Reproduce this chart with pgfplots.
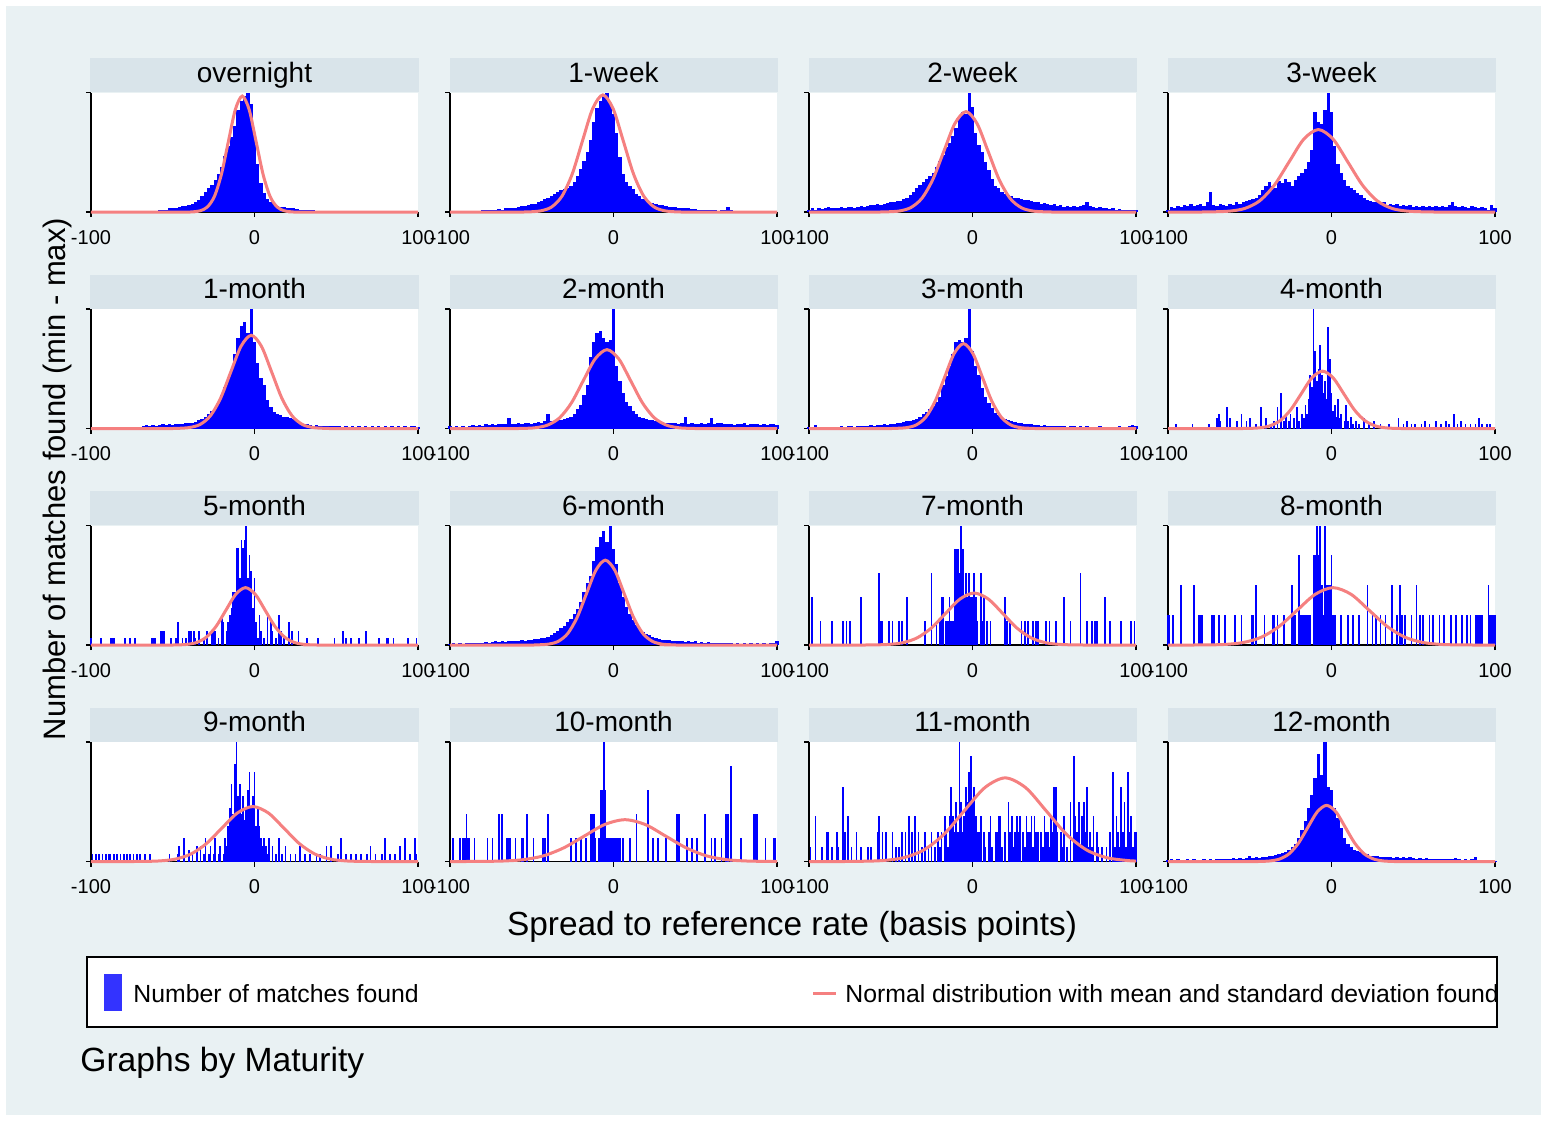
\documentclass[border=0pt]{standalone}
\usepackage{pgfplots}
\pgfplotsset{compat=1.18}
\usepackage{pgfplotstable}
\usepackage{fontspec}
\setmainfont{Liberation Sans}
\definecolor{bgc}{RGB}{233,241,243}
\definecolor{stripc}{RGB}{217,228,234}
\definecolor{curvec}{RGB}{245,128,128}
\definecolor{barc}{RGB}{0,0,255}
\definecolor{legc}{RGB}{51,51,255}

\pgfplotsset{panel/.style={
  anchor=north west, scale only axis, width=163.5pt, height=59.75pt,
  xmin=-100, xmax=100, ymin=0, ymax=1, clip=false,
  axis x line*=bottom, axis y line*=left,
  xtick={-100,0,100}, xticklabels={-100,0,100},
  ytick={0,1}, yticklabels={},
  tick align=outside, major tick length=2.5pt,
  tick style={black, line width=0.6pt},
  axis line style={black, line width=0.6pt},
  xticklabel style={font=\fontsize{10}{12}\selectfont, yshift=-3pt},
  axis background/.style={fill=white},
  title style={at={(0.5,1)}, anchor=south, yshift=-6pt, fill=stripc, minimum width=164pt, minimum height=17pt, inner sep=0pt, text height=10pt, text depth=2.8pt, font=\fontsize{14}{16}\selectfont},
}}
\pgfplotsset{hist/.style={ycomb, barc, line width=1.7pt}, shist/.style={ycomb, barc, line width=0.85pt}, ncurve/.style={curvec, line width=1.5pt, smooth}}

\pgfplotstableread{
x on w1 w2 w3 m1 m2 m3 m6 m12
-100 0 0 0.02 0.02 0 0.02 0.01 0.01 0.01
-98 0 0 0.03 0.04 0 0.015 0.015 0.02 0.02
-96 0 0.005 0.02 0.03 0 0.02 0.03 0.01 0.01
-94 0 0.005 0.03 0.05 0 0.01 0.01 0.015 0.02
-92 0 0.005 0.025 0.04 0 0.02 0.005 0.01 0.015
-90 0 0.01 0.03 0.06 0 0.015 0.01 0.02 0.01
-88 0 0.005 0.04 0.05 0 0.02 0.015 0.015 0.02
-86 0 0.01 0.03 0.07 0 0.03 0.01 0.02 0.015
-84 0 0.01 0.035 0.05 0.01 0.025 0.015 0.015 0.02
-82 0 0.01 0.03 0.06 0 0.03 0.01 0.02 0.015
-80 0 0.015 0.04 0.07 0 0.025 0.02 0.02 0.01
-78 0 0.02 0.03 0.05 0 0.04 0.015 0.025 0.02
-76 0 0.015 0.045 0.08 0 0.03 0.02 0.02 0.015
-74 0 0.02 0.04 0.17 0 0.035 0.02 0.025 0.02
-72 0 0.02 0.035 0.06 0 0.03 0.015 0.03 0.015
-70 0 0.025 0.045 0.05 0.005 0.04 0.02 0.025 0.02
-68 0.005 0.02 0.05 0.07 0.02 0.035 0.025 0.03 0.025
-66 0.01 0.03 0.045 0.06 0.03 0.04 0.02 0.025 0.02
-64 0.005 0.03 0.05 0.05 0.025 0.09 0.025 0.03 0.025
-62 0.01 0.03 0.06 0.07 0.03 0.04 0.03 0.035 0.02
-60 0.01 0.035 0.055 0.06 0.025 0.035 0.025 0.03 0.03
-58 0.015 0.04 0.065 0.08 0.03 0.045 0.03 0.035 0.025
-56 0.02 0.05 0.06 0.07 0.035 0.04 0.03 0.04 0.03
-54 0.02 0.05 0.07 0.08 0.03 0.05 0.035 0.035 0.025
-52 0.03 0.06 0.075 0.09 0.035 0.045 0.03 0.04 0.03
-50 0.03 0.065 0.08 0.1 0.03 0.04 0.035 0.045 0.05
-48 0.035 0.07 0.085 0.11 0.04 0.05 0.04 0.05 0.03
-46 0.04 0.08 0.09 0.12 0.035 0.055 0.045 0.05 0.035
-44 0.05 0.09 0.095 0.14 0.04 0.05 0.05 0.055 0.03
-42 0.05 0.11 0.11 0.18 0.045 0.06 0.055 0.06 0.04
-40 0.06 0.12 0.12 0.22 0.05 0.12 0.06 0.07 0.035
-38 0.07 0.13 0.14 0.25 0.05 0.06 0.065 0.08 0.045
-36 0.08 0.15 0.17 0.22 0.055 0.065 0.07 0.1 0.05
-34 0.1 0.17 0.2 0.2 0.07 0.07 0.08 0.12 0.055
-32 0.13 0.18 0.23 0.26 0.08 0.075 0.1 0.14 0.06
-30 0.17 0.19 0.25 0.24 0.1 0.08 0.12 0.16 0.07
-28 0.2 0.2 0.28 0.28 0.12 0.09 0.14 0.19 0.08
-26 0.23 0.22 0.3 0.25 0.15 0.1 0.16 0.22 0.1
-24 0.27 0.25 0.33 0.22 0.18 0.12 0.19 0.26 0.12
-22 0.32 0.3 0.38 0.27 0.22 0.16 0.22 0.3 0.15
-20 0.38 0.36 0.43 0.3 0.28 0.2 0.26 0.36 0.2
-18 0.47 0.43 0.48 0.33 0.35 0.28 0.36 0.44 0.26
-16 0.55 0.5 0.54 0.36 0.43 0.36 0.44 0.52 0.34
-14 0.63 0.6 0.58 0.42 0.5 0.6 0.52 0.58 0.45
-12 0.72 0.75 0.64 0.52 0.62 0.72 0.62 0.7 0.56
-10 0.85 0.87 0.7 0.84 0.76 0.8 0.72 0.82 0.7
-8 0.93 0.93 0.8 0.75 0.86 0.82 0.74 0.9 0.9
-6 0.97 0.98 0.84 0.74 0.89 0.76 0.72 0.95 0.72
-4 1 1 0.82 0.85 0.8 0.72 0.76 0.86 1
-2 0.9 0.9 1 1 1 0.74 1 1 0.62
0 0.65 0.82 0.88 0.84 0.72 1 0.65 0.8 0.6
2 0.4 0.66 0.66 0.55 0.55 0.52 0.52 0.68 0.45
4 0.24 0.46 0.56 0.4 0.42 0.4 0.45 0.52 0.36
6 0.16 0.32 0.5 0.33 0.36 0.3 0.34 0.4 0.28
8 0.11 0.25 0.42 0.27 0.24 0.22 0.26 0.32 0.2
10 0.08 0.22 0.35 0.22 0.18 0.19 0.21 0.26 0.15
12 0.065 0.19 0.28 0.2 0.14 0.15 0.17 0.21 0.12
14 0.05 0.15 0.22 0.18 0.12 0.12 0.13 0.17 0.1
16 0.045 0.13 0.2 0.16 0.11 0.1 0.11 0.14 0.09
18 0.04 0.11 0.17 0.14 0.1 0.09 0.09 0.11 0.08
20 0.035 0.1 0.15 0.12 0.1 0.08 0.08 0.09 0.07
22 0.03 0.085 0.14 0.1 0.09 0.075 0.07 0.08 0.06
24 0.03 0.075 0.13 0.09 0.08 0.07 0.06 0.07 0.05
26 0.025 0.07 0.12 0.08 0.07 0.065 0.055 0.06 0.05
28 0.02 0.06 0.12 0.08 0.05 0.06 0.05 0.05 0.045
30 0.02 0.055 0.11 0.07 0.04 0.055 0.045 0.045 0.04
32 0.02 0.05 0.1 0.08 0.035 0.05 0.04 0.04 0.04
34 0.015 0.045 0.1 0.06 0.03 0.05 0.035 0.04 0.035
36 0.015 0.04 0.09 0.07 0.025 0.045 0.035 0.035 0.04
38 0.01 0.04 0.08 0.06 0.03 0.05 0.03 0.03 0.03
40 0.01 0.035 0.085 0.07 0.025 0.04 0.03 0.035 0.035
42 0.01 0.035 0.07 0.05 0.02 0.045 0.025 0.03 0.03
44 0.005 0.03 0.075 0.06 0.025 0.1 0.03 0.025 0.035
46 0 0.03 0.065 0.05 0.02 0.04 0.02 0.03 0.03
48 0 0.025 0.06 0.06 0.025 0.045 0.025 0.025 0.04
50 0 0.025 0.065 0.04 0.02 0.04 0.02 0.03 0.03
52 0 0.02 0.05 0.05 0.02 0.035 0.025 0.02 0.025
54 0 0.02 0.06 0.04 0.015 0.045 0.02 0.025 0.03
56 0 0.02 0.045 0.05 0.02 0.04 0.02 0.02 0.025
58 0 0.015 0.05 0.04 0.015 0.05 0.015 0.025 0.03
60 0 0.015 0.04 0.05 0.02 0.09 0.02 0.02 0.025
62 0 0.015 0.05 0.04 0.015 0.04 0.02 0.015 0.02
64 0 0.01 0.04 0.05 0.02 0.045 0.015 0.02 0.025
66 0 0.015 0.05 0.04 0.015 0.05 0.02 0.015 0.02
68 0 0.02 0.06 0.05 0.02 0.04 0.015 0.02 0.025
70 0 0.04 0.085 0.04 0.015 0.035 0.02 0.015 0.02
72 0 0.015 0.05 0.06 0.02 0.04 0.015 0.02 0.025
74 0 0.01 0.04 0.08 0.015 0.03 0.01 0.01 0.02
76 0 0.01 0.035 0.05 0.02 0.04 0.015 0.015 0.03
78 0 0.005 0.04 0.04 0.015 0.035 0.02 0.01 0.02
80 0 0.01 0.03 0.05 0.02 0.05 0.01 0.015 0.015
82 0 0.005 0.035 0.04 0.015 0.03 0.015 0.01 0.02
84 0 0.01 0.025 0.03 0.02 0.04 0.01 0.015 0.015
86 0 0.005 0.03 0.05 0.015 0.035 0.015 0.01 0.02
88 0 0.005 0.02 0.04 0.02 0.04 0.01 0.015 0.04
90 0 0.005 0.025 0.03 0.015 0.03 0.02 0.01 0.015
92 0 0 0.02 0.04 0.02 0.035 0.015 0.015 0.01
94 0 0.005 0.015 0.03 0.015 0.03 0.01 0.01 0.015
96 0 0 0.02 0.02 0.02 0.035 0.02 0.015 0.01
98 0 0 0.015 0.06 0.02 0.04 0.03 0.02 0.01
100 0 0 0.02 0.03 0.015 0.03 0.02 0.03 0.005
}\dense

\begin{document}
\begin{tikzpicture}
\useasboundingbox (0,0) rectangle (773.5pt,-560.5pt);
\fill[white] (0,0) rectangle (773.5pt,-560.5pt);
\fill[bgc] (3pt,-3pt) rectangle (770.5pt,-557.5pt);

% ---------- Row 1 ----------
\begin{axis}[panel, at={(45.5pt,-46.25pt)}, title={overnight}]
\addplot[hist] table[x=x,y=on]{\dense};
\addplot[ncurve] coordinates {(-100,0)(-41.5,0)(-37.25,0.002)(-33,0.011)(-28.75,0.043)(-24.5,0.131)(-20.25,0.315)(-16,0.588)(-11.75,0.856)(-7.5,0.97)(-3.25,0.856)(1,0.588)(5.25,0.315)(9.5,0.131)(13.75,0.043)(18,0.011)(22.25,0.002)(26.5,0)(100,0)};
\end{axis}
\begin{axis}[panel, at={(225pt,-46.25pt)}, title={1-week}]
\addplot[hist] table[x=x,y=w1]{\dense};
\addplot[ncurve] coordinates {(-100,0)(-56.5,0)(-50.25,0.002)(-44,0.011)(-37.75,0.043)(-31.5,0.133)(-25.25,0.318)(-19,0.594)(-12.75,0.865)(-6.5,0.98)(-0.25,0.865)(6,0.594)(12.25,0.318)(18.5,0.133)(24.75,0.043)(31,0.011)(37.25,0.002)(43.5,0)(100,0)};
\end{axis}
\begin{axis}[panel, at={(404.5pt,-46.25pt)}, title={2-week}]
\addplot[hist] table[x=x,y=w2]{\dense};
\addplot[ncurve] coordinates {(-100,0)(-58,0)(-51.25,0.002)(-44.5,0.009)(-37.75,0.037)(-31,0.114)(-24.25,0.273)(-17.5,0.509)(-10.75,0.741)(-4,0.84)(2.75,0.741)(9.5,0.509)(16.25,0.273)(23,0.114)(29.75,0.037)(36.5,0.009)(43.25,0.002)(50,0)(100,0)};
\end{axis}
\begin{axis}[panel, at={(584pt,-46.25pt)}, title={3-week}]
\addplot[hist] table[x=x,y=w3]{\dense};
\addplot[ncurve] coordinates {(-100,0)(-80,0)(-71,0.002)(-62,0.008)(-53,0.03)(-44,0.093)(-35,0.224)(-26,0.418)(-17,0.609)(-8,0.69)(1,0.609)(10,0.418)(19,0.224)(28,0.093)(37,0.03)(46,0.008)(55,0.002)(64,0)(100,0)};
\end{axis}

% ---------- Row 2 ----------
\begin{axis}[panel, at={(45.5pt,-154.5pt)}, title={1-month}]
\addplot[hist] table[x=x,y=m1]{\dense};
\addplot[ncurve] coordinates {(-100,0)(-52,0)(-45.75,0.002)(-39.5,0.009)(-33.25,0.034)(-27,0.106)(-20.75,0.253)(-14.5,0.473)(-8.25,0.688)(-2,0.78)(4.25,0.688)(10.5,0.473)(16.75,0.253)(23,0.106)(29.25,0.034)(35.5,0.009)(41.75,0.002)(48,0)(100,0)};
\end{axis}
\begin{axis}[panel, at={(225pt,-154.5pt)}, title={2-month}]
\addplot[hist] table[x=x,y=m2]{\dense};
\addplot[ncurve] coordinates {(-100,0)(-62,0)(-54.75,0.001)(-47.5,0.007)(-40.25,0.029)(-33,0.089)(-25.75,0.214)(-18.5,0.4)(-11.25,0.582)(-4,0.66)(3.25,0.582)(10.5,0.4)(17.75,0.214)(25,0.089)(32.25,0.029)(39.5,0.007)(46.75,0.001)(54,0)(100,0)};
\end{axis}
\begin{axis}[panel, at={(404.5pt,-154.5pt)}, title={3-month}]
\addplot[hist] table[x=x,y=m3]{\dense};
\addplot[ncurve] coordinates {(-100,0)(-51.5,0)(-45.75,0.002)(-40,0.008)(-34.25,0.031)(-28.5,0.096)(-22.75,0.231)(-17,0.431)(-11.25,0.627)(-5.5,0.71)(0.25,0.627)(6,0.431)(11.75,0.231)(17.5,0.096)(23.25,0.031)(29,0.008)(34.75,0.002)(40.5,0)(100,0)};
\end{axis}
\begin{axis}[panel, at={(584pt,-154.5pt)}, title={4-month}]
\addplot[shist] coordinates {(-95,0.035)(-85,0.035)(-75,0.035)(-70,0.09)(-69,0.12)(-68,0.06)(-64,0.18)(-62,0.09)(-58,0.06)(-55,0.12)(-52,0.06)(-50,0.09)(-46,0.035)(-43,0.18)(-40,0.09)(-37,0.035)(-35,0.06)(-33,0.18)(-31,0.3)(-29,0.06)(-28,0.12)(-26,0.06)(-25,0.12)(-23,0.09)(-21,0.18)(-20,0.06)(-18,0.12)(-17,0.09)(-16,0.2)(-15,0.12)(-14,0.25)(-13,0.45)(-12,0.35)(-11,1)(-10,0.65)(-9,0.4)(-8,0.5)(-7,0.7)(-6,0.45)(-5,0.3)(-4,0.4)(-3,0.25)(-2,0.85)(-1,0.58)(0,0.3)(1,0.15)(2,0.2)(3,0.1)(4,0.25)(5,0.09)(6,0.12)(8,0.06)(9,0.2)(10,0.06)(12,0.1)(13,0.035)(15,0.06)(17,0.035)(20,0.09)(23,0.035)(26,0.06)(30,0.035)(35,0.035)(41,0.09)(44,0.035)(46,0.06)(49,0.035)(51,0.035)(55,0.035)(57,0.06)(60,0.035)(64,0.06)(67,0.035)(70,0.06)(72,0.035)(75,0.12)(77,0.035)(79,0.06)(82,0.035)(85,0.035)(88,0.035)(90,0.09)(92,0.035)(95,0.035)(97,0.035)};
\addplot[ncurve] coordinates {(-100,0)(-57.5,0)(-51,0.001)(-44.5,0.005)(-38,0.021)(-31.5,0.065)(-25,0.156)(-18.5,0.291)(-12,0.424)(-5.5,0.48)(1,0.424)(7.5,0.291)(14,0.156)(20.5,0.065)(27,0.021)(33.5,0.005)(40,0.001)(46.5,0)(100,0)};
\end{axis}

% ---------- Row 3 ----------
\begin{axis}[panel, at={(45.5pt,-262.75pt)}, title={5-month}]
\addplot[shist] coordinates {(-100,0.06)(-94,0.06)(-88,0.06)(-87,0.06)(-86,0.06)(-79,0.06)(-76,0.06)(-73,0.06)(-63,0.06)(-62,0.06)(-61,0.06)(-57,0.12)(-56,0.12)(-55,0.12)(-51,0.06)(-48,0.06)(-47,0.19)(-44,0.06)(-42,0.06)(-40,0.12)(-39,0.12)(-37,0.12)(-36,0.06)(-34,0.12)(-31,0.06)(-29,0.12)(-26,0.12)(-25,0.12)(-24,0.12)(-22,0.06)(-20,0.25)(-19,0.19)(-17,0.12)(-16,0.19)(-15,0.25)(-14,0.31)(-13,0.44)(-12,0.44)(-11,0.81)(-10,0.81)(-9,0.56)(-8,0.88)(-7,0.81)(-6,0.88)(-5,1)(-4,0.56)(-3,0.75)(-2,0.62)(-1,0.31)(0,0.56)(1,0.19)(2,0.06)(3,0.25)(4,0.12)(6,0.06)(8,0.25)(10,0.19)(11,0.12)(13,0.06)(15,0.25)(16,0.12)(18,0.06)(21,0.19)(23,0.12)(27,0.12)(32,0.06)(39,0.06)(49,0.06)(54,0.12)(56,0.06)(59,0.06)(64,0.06)(68,0.12)(76,0.06)(81,0.06)(82,0.06)(85,0.06)(94,0.06)(99,0.06)};
\addplot[ncurve] coordinates {(-100,0)(-53.5,0)(-47.5,0.001)(-41.5,0.005)(-35.5,0.021)(-29.5,0.065)(-23.5,0.156)(-17.5,0.291)(-11.5,0.424)(-5.5,0.48)(0.5,0.424)(6.5,0.291)(12.5,0.156)(18.5,0.065)(24.5,0.021)(30.5,0.005)(36.5,0.001)(42.5,0)(100,0)};
\end{axis}
\begin{axis}[panel, at={(225pt,-262.75pt)}, title={6-month}]
\addplot[hist] table[x=x,y=m6]{\dense};
\addplot[ncurve] coordinates {(-100,0)(-51,0)(-45.25,0.002)(-39.5,0.008)(-33.75,0.031)(-28,0.096)(-22.25,0.231)(-16.5,0.431)(-10.75,0.627)(-5,0.71)(0.75,0.627)(6.5,0.431)(12.25,0.231)(18,0.096)(23.75,0.031)(29.5,0.008)(35.25,0.002)(41,0)(100,0)};
\end{axis}
\begin{axis}[panel, at={(404.5pt,-262.75pt)}, title={7-month}]
\addplot[shist] coordinates {(-98,0.4)(-93,0.2)(-86,0.2)(-79,0.2)(-77,0.2)(-75,0.2)(-68,0.4)(-57,0.6)(-56,0.2)(-55,0.2)(-51,0.2)(-49,0.2)(-45,0.2)(-43,0.2)(-40,0.4)(-29,0.2)(-25,0.6)(-22,0.2)(-20,0.2)(-19,0.4)(-18,0.4)(-16,0.2)(-15,0.2)(-14,0.4)(-13,0.2)(-12,0.2)(-11,0.8)(-10,0.8)(-9,0.8)(-8,0.6)(-7,1)(-6,0.8)(-5,0.4)(-4,0.6)(-3,0.4)(-2,0.6)(-1,0.4)(0,0.4)(1,0.6)(2,0.4)(3,0.2)(5,0.6)(6,0.2)(7,0.4)(9,0.2)(11,0.2)(20,0.4)(21,0.2)(23,0.2)(30,0.2)(32,0.2)(34,0.2)(37,0.2)(39,0.2)(40,0.2)(45,0.2)(47,0.2)(51,0.2)(56,0.4)(60,0.2)(66,0.6)(70,0.2)(73,0.2)(75,0.2)(76,0.2)(81,0.4)(84,0.2)(91,0.2)(97,0.2)(99,0.2)};
\addplot[ncurve] coordinates {(-100,0)(-69,0)(-60.25,0.001)(-51.5,0.005)(-42.75,0.019)(-34,0.059)(-25.25,0.141)(-16.5,0.264)(-7.75,0.384)(1,0.435)(9.75,0.384)(18.5,0.264)(27.25,0.141)(36,0.059)(44.75,0.019)(53.5,0.005)(62.25,0.001)(71,0)(100,0)};
\end{axis}
\begin{axis}[panel, at={(584pt,-262.75pt)}, title={8-month}]
\addplot[shist] coordinates {(-100,0.25)(-99,0.25)(-97,0.25)(-92,0.5)(-84,0.5)(-81,0.25)(-80,0.25)(-79,0.25)(-73,0.25)(-72,0.25)(-69,0.25)(-65,0.25)(-59,0.25)(-55,0.25)(-49,0.25)(-48,0.25)(-46,0.5)(-41,0.25)(-36,0.25)(-35,0.25)(-33,0.25)(-29,0.25)(-24,0.5)(-23,0.25)(-22,0.25)(-20,0.75)(-19,0.25)(-18,0.25)(-17,0.25)(-16,0.25)(-15,0.25)(-14,0.25)(-13,0.25)(-11,0.75)(-10,0.75)(-9,1)(-8,0.75)(-7,1)(-6,0.5)(-5,0.25)(-4,1)(-3,0.5)(-2,0.5)(-1,0.5)(0,0.75)(1,0.25)(2,0.25)(6,0.25)(10,0.25)(13,0.25)(17,0.25)(22,0.5)(25,0.25)(27,0.25)(30,0.25)(33,0.25)(37,0.5)(40,0.25)(42,0.5)(43,0.25)(45,0.25)(49,0.25)(52,0.5)(54,0.25)(56,0.25)(60,0.25)(62,0.25)(66,0.25)(69,0.25)(73,0.25)(76,0.25)(80,0.25)(83,0.25)(85,0.25)(88,0.25)(89,0.25)(90,0.25)(91,0.25)(92,0.25)(96,0.5)(97,0.25)(98,0.25)(99,0.25)(100,0.25)};
\addplot[ncurve] coordinates {(-100,0)(-87,0)(-76,0.001)(-65,0.005)(-54,0.021)(-43,0.065)(-32,0.156)(-21,0.291)(-10,0.424)(1,0.48)(12,0.424)(23,0.291)(34,0.156)(45,0.065)(56,0.021)(67,0.005)(78,0.001)(89,0)(100,0)};
\end{axis}

% ---------- Row 4 ----------
\begin{axis}[panel, at={(45.5pt,-371pt)}, title={9-month}]
\addplot[shist] coordinates {(-99,0.06)(-97,0.06)(-95,0.06)(-93,0.06)(-91,0.06)(-89,0.06)(-88,0.06)(-86,0.06)(-84,0.06)(-82,0.06)(-80,0.06)(-78,0.06)(-76,0.06)(-74,0.06)(-72,0.06)(-70,0.06)(-67,0.06)(-64,0.06)(-52,0.06)(-47,0.06)(-46,0.13)(-43,0.2)(-40,0.1)(-38,0.06)(-35,0.13)(-33,0.13)(-31,0.06)(-30,0.2)(-28,0.06)(-27,0.13)(-25,0.06)(-24,0.2)(-22,0.06)(-21,0.13)(-19,0.06)(-18,0.2)(-17,0.13)(-16,0.3)(-15,0.45)(-14,0.65)(-13,0.4)(-12,0.82)(-11,1)(-10,0.55)(-9,0.65)(-8,0.4)(-7,0.55)(-6,0.35)(-5,0.45)(-4,0.6)(-3,0.75)(-2,0.45)(-1,0.55)(0,0.75)(1,0.3)(2,0.45)(3,0.3)(4,0.2)(5,0.13)(6,0.2)(7,0.13)(8,0.06)(9,0.2)(11,0.13)(13,0.06)(15,0.2)(17,0.06)(19,0.13)(22,0.06)(25,0.06)(28,0.13)(31,0.06)(34,0.06)(38,0.06)(40,0.06)(44,0.13)(47,0.13)(51,0.06)(53,0.2)(56,0.06)(59,0.06)(62,0.06)(65,0.06)(69,0.06)(71,0.13)(74,0.06)(78,0.06)(80,0.2)(83,0.06)(86,0.06)(89,0.13)(92,0.2)(95,0.06)(98,0.2)(99,0.06)};
\addplot[ncurve] coordinates {(-100,0)(-77,0)(-67.5,0.001)(-58,0.005)(-48.5,0.02)(-39,0.062)(-29.5,0.149)(-20,0.279)(-10.5,0.406)(-1,0.46)(8.5,0.406)(18,0.279)(27.5,0.149)(37,0.062)(46.5,0.02)(56,0.005)(65.5,0.001)(75,0)(100,0)};
\end{axis}
\begin{axis}[panel, at={(225pt,-371pt)}, title={10-month}]
\addplot[shist] coordinates {(-98,0.2)(-94,0.2)(-92,0.2)(-91,0.2)(-90,0.4)(-89,0.2)(-88,0.2)(-85,0.2)(-77,0.2)(-74,0.2)(-70,0.4)(-68,0.4)(-65,0.2)(-64,0.2)(-63,0.2)(-60,0.2)(-56,0.2)(-55,0.2)(-53,0.4)(-49,0.2)(-43,0.2)(-42,0.2)(-40,0.4)(-26,0.2)(-23,0.2)(-20,0.2)(-17,0.2)(-14,0.4)(-13,0.4)(-12,0.4)(-11,0.2)(-9,0.2)(-8,0.6)(-7,0.6)(-6,1)(-5,0.6)(-4,0.2)(-3,0.2)(-2,0.2)(-1,0.2)(0,0.2)(1,0.2)(2,0.2)(3,0.2)(4,0.2)(6,0.2)(10,0.2)(14,0.4)(21,0.6)(24,0.2)(27,0.2)(32,0.2)(39,0.4)(40,0.4)(45,0.2)(48,0.2)(51,0.2)(56,0.4)(60,0.2)(62,0.2)(66,0.2)(69,0.4)(70,0.4)(72,0.8)(78,0.2)(86,0.4)(87,0.4)(88,0.4)(93,0.2)(98,0.2)(99,0.2)};
\addplot[ncurve] coordinates {(-100,0)(-93,0)(-80.5,0.001)(-68,0.004)(-55.5,0.015)(-43,0.047)(-30.5,0.114)(-18,0.212)(-5.5,0.309)(7,0.35)(19.5,0.309)(32,0.212)(44.5,0.114)(57,0.047)(69.5,0.015)(82,0.004)(94.5,0.001)(100,0)};
\end{axis}
\begin{axis}[panel, at={(404.5pt,-371pt)}, title={11-month}]
\addplot[shist] coordinates {(-99,0.12)(-96,0.38)(-92,0.12)(-89,0.25)(-88,0.25)(-86,0.12)(-83,0.25)(-82,0.12)(-79,0.62)(-78,0.25)(-76,0.38)(-74,0.12)(-71,0.25)(-68,0.12)(-64,0.12)(-62,0.12)(-58,0.25)(-57,0.38)(-55,0.25)(-53,0.25)(-49,0.25)(-47,0.12)(-45,0.12)(-43,0.25)(-41,0.25)(-39,0.38)(-37,0.25)(-35,0.38)(-33,0.25)(-31,0.12)(-29,0.25)(-27,0.12)(-25,0.25)(-23,0.12)(-21,0.25)(-20,0.12)(-19,0.25)(-17,0.38)(-16,0.25)(-15,0.12)(-14,0.38)(-13,0.62)(-12,0.38)(-11,0.25)(-10,0.5)(-9,0.25)(-8,1)(-7,0.5)(-6,0.25)(-5,0.38)(-4,0.62)(-3,0.5)(-2,0.75)(-1,0.88)(0,0.5)(1,0.62)(2,0.38)(3,0.25)(4,0.25)(5,0.38)(7,0.25)(8,0.12)(10,0.25)(11,0.38)(12,0.12)(14,0.25)(15,0.25)(16,0.38)(17,0.38)(18,0.12)(20,0.25)(22,0.5)(23,0.25)(24,0.38)(25,0.12)(26,0.25)(27,0.38)(28,0.25)(29,0.38)(31,0.25)(32,0.12)(33,0.38)(34,0.25)(35,0.25)(36,0.38)(37,0.12)(38,0.38)(39,0.25)(40,0.25)(42,0.25)(43,0.12)(44,0.38)(45,0.25)(46,0.25)(47,0.12)(48,0.38)(49,0.25)(50,0.62)(51,0.62)(52,0.25)(54,0.25)(55,0.12)(56,0.38)(58,0.12)(60,0.5)(62,0.88)(63,0.38)(64,0.25)(65,0.5)(66,0.12)(67,0.38)(68,0.5)(69,0.25)(70,0.62)(71,0.12)(72,0.25)(73,0.12)(74,0.38)(76,0.25)(77,0.12)(79,0.12)(82,0.12)(84,0.25)(86,0.75)(87,0.12)(88,0.38)(89,0.25)(90,0.12)(91,0.62)(92,0.25)(93,0.5)(94,0.12)(95,0.75)(96,0.25)(97,0.38)(98,0.12)(99,0.25)(100,0.25)};
\addplot[ncurve] coordinates {(-100,0)(-80,0)(-67.5,0.002)(-55,0.008)(-42.5,0.031)(-30,0.095)(-17.5,0.227)(-5,0.425)(7.5,0.618)(20,0.7)(32.5,0.618)(45,0.425)(57.5,0.227)(70,0.095)(82.5,0.031)(95,0.008)(100,0.004)};
\end{axis}
\begin{axis}[panel, at={(584pt,-371pt)}, title={12-month}]
\addplot[hist] table[x=x,y=m12]{\dense};
\addplot[ncurve] coordinates {(-100,0)(-49,0)(-43.25,0.001)(-37.5,0.005)(-31.75,0.021)(-26,0.064)(-20.25,0.153)(-14.5,0.285)(-8.75,0.415)(-3,0.47)(2.75,0.415)(8.5,0.285)(14.25,0.153)(20,0.064)(25.75,0.021)(31.5,0.005)(37.25,0.001)(43,0)(100,0)};
\end{axis}

% ---------- labels and legend ----------
\node[anchor=base, inner sep=0pt, font=\fontsize{16.7}{19}\selectfont] at (396pt,-467.5pt) {Spread to reference rate (basis points)};
\node[anchor=base, rotate=90, inner sep=0pt, font=\fontsize{15.5}{18}\selectfont] at (32.5pt,-239.5pt) {Number of matches found (min - max)};
\draw[black, line width=0.9pt, fill=white] (43.5pt,-478.5pt) rectangle (748.5pt,-513.5pt);
\fill[legc] (52pt,-487pt) rectangle (61pt,-505.5pt);
\node[anchor=base west, inner sep=0pt, font=\fontsize{12.4}{15}\selectfont] at (66.5pt,-501pt) {Number of matches found};
\draw[curvec, line width=1.5pt] (406.5pt,-496.5pt) -- (418pt,-496.5pt);
\node[anchor=base west, inner sep=0pt, font=\fontsize{12.4}{15}\selectfont] at (422.5pt,-501pt) {Normal distribution with mean and standard deviation found};
\node[anchor=base west, inner sep=0pt, font=\fontsize{16.8}{19}\selectfont] at (40pt,-535.5pt) {Graphs by Maturity};
\end{tikzpicture}
\end{document}
